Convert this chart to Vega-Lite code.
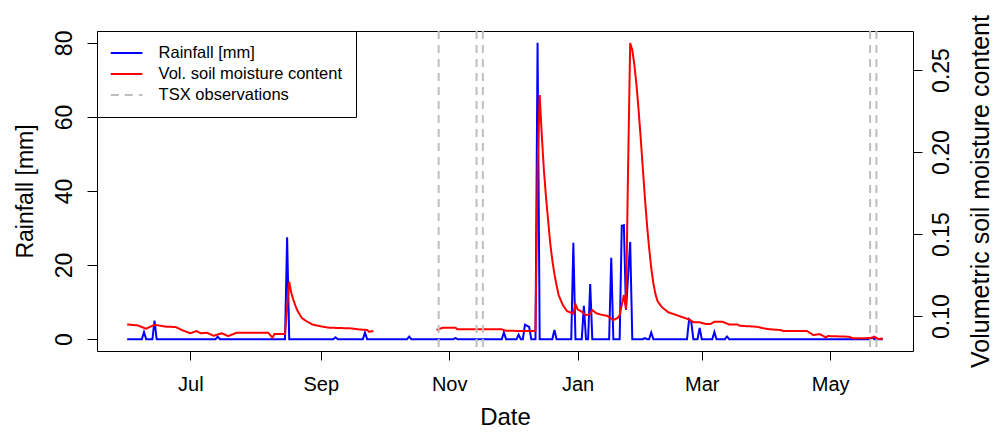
{
  "$schema": "https://vega.github.io/schema/vega-lite/v6.json",
  "width": 816,
  "height": 320,
  "autosize": {"type": "none"},
  "padding": {"left": 97, "top": 31, "right": 82, "bottom": 81},
  "background": "white",
  "config": {
    "font": "Liberation Sans",
    "view": {"stroke": "black", "strokeWidth": 1},
    "axis": {
      "grid": false,
      "domain": false,
      "tickColor": "black",
      "tickWidth": 1,
      "labelColor": "black",
      "titleColor": "black",
      "labelFont": "Liberation Sans",
      "titleFont": "Liberation Sans",
      "titleFontWeight": "normal",
      "labelFontSize": 20,
      "titleFontSize": 22,
      "tickSize": 9,
      "labelOverlap": false,
      "labelFlush": false
    },
    "legend": {
      "orient": "top-left",
      "direction": "vertical",
      "offset": 0,
      "padding": 13,
      "symbolOffset": 7.6,
      "strokeColor": "black",
      "fillColor": "white",
      "symbolType": "M-2,0H2",
      "symbolSize": 250,
      "symbolStrokeWidth": 2,
      "labelFont": "Liberation Sans",
      "labelFontSize": 16.5,
      "labelLimit": 0,
      "labelColor": "black",
      "labelOffset": 23,
      "rowPadding": 3
    }
  },
  "datasets": {
    "rain": [
      {"date": "2012/06/01", "mm": 0},
      {"date": "2012/06/08", "mm": 0},
      {"date": "2012/06/09", "mm": 1.9},
      {"date": "2012/06/10", "mm": 0},
      {"date": "2012/06/13", "mm": 0},
      {"date": "2012/06/14", "mm": 5.0},
      {"date": "2012/06/15", "mm": 0},
      {"date": "2012/07/13", "mm": 0},
      {"date": "2012/07/14", "mm": 0.7},
      {"date": "2012/07/15", "mm": 0},
      {"date": "2012/08/15", "mm": 0},
      {"date": "2012/08/16", "mm": 27.5},
      {"date": "2012/08/17", "mm": 0},
      {"date": "2012/09/07", "mm": 0},
      {"date": "2012/09/08", "mm": 0.5},
      {"date": "2012/09/09", "mm": 0},
      {"date": "2012/09/21", "mm": 0},
      {"date": "2012/09/22", "mm": 1.8},
      {"date": "2012/09/23", "mm": 0},
      {"date": "2012/10/12", "mm": 0},
      {"date": "2012/10/13", "mm": 0.7},
      {"date": "2012/10/14", "mm": 0},
      {"date": "2012/11/03", "mm": 0},
      {"date": "2012/11/04", "mm": 0.3},
      {"date": "2012/11/05", "mm": 0},
      {"date": "2012/11/26", "mm": 0},
      {"date": "2012/11/27", "mm": 1.8},
      {"date": "2012/11/28", "mm": 0},
      {"date": "2012/12/03", "mm": 0},
      {"date": "2012/12/04", "mm": 1.2},
      {"date": "2012/12/05", "mm": 0},
      {"date": "2012/12/06", "mm": 0},
      {"date": "2012/12/07", "mm": 3.9},
      {"date": "2012/12/08", "mm": 3.6},
      {"date": "2012/12/09", "mm": 3.3},
      {"date": "2012/12/10", "mm": 0},
      {"date": "2012/12/12", "mm": 0},
      {"date": "2012/12/13", "mm": 80},
      {"date": "2012/12/14", "mm": 0},
      {"date": "2012/12/20", "mm": 0},
      {"date": "2012/12/21", "mm": 2.5},
      {"date": "2012/12/22", "mm": 0},
      {"date": "2012/12/29", "mm": 0},
      {"date": "2012/12/30", "mm": 26},
      {"date": "2012/12/31", "mm": 0},
      {"date": "2013/01/03", "mm": 0},
      {"date": "2013/01/04", "mm": 9},
      {"date": "2013/01/05", "mm": 0},
      {"date": "2013/01/06", "mm": 0},
      {"date": "2013/01/07", "mm": 14.9},
      {"date": "2013/01/08", "mm": 0},
      {"date": "2013/01/16", "mm": 0},
      {"date": "2013/01/17", "mm": 22},
      {"date": "2013/01/18", "mm": 0},
      {"date": "2013/01/21", "mm": 0},
      {"date": "2013/01/22", "mm": 30.6},
      {"date": "2013/01/23", "mm": 30.8},
      {"date": "2013/01/24", "mm": 7.9},
      {"date": "2013/01/25", "mm": 17},
      {"date": "2013/01/26", "mm": 26.2},
      {"date": "2013/01/27", "mm": 0},
      {"date": "2013/02/01", "mm": 0},
      {"date": "2013/02/02", "mm": 0.3},
      {"date": "2013/02/03", "mm": 0},
      {"date": "2013/02/04", "mm": 0},
      {"date": "2013/02/05", "mm": 1.8},
      {"date": "2013/02/06", "mm": 0},
      {"date": "2013/02/22", "mm": 0},
      {"date": "2013/02/23", "mm": 5.4},
      {"date": "2013/02/24", "mm": 4.8},
      {"date": "2013/02/25", "mm": 0},
      {"date": "2013/02/27", "mm": 0},
      {"date": "2013/02/28", "mm": 3.0},
      {"date": "2013/03/01", "mm": 0},
      {"date": "2013/03/06", "mm": 0},
      {"date": "2013/03/07", "mm": 1.9},
      {"date": "2013/03/08", "mm": 0},
      {"date": "2013/03/12", "mm": 0},
      {"date": "2013/03/13", "mm": 0.7},
      {"date": "2013/03/14", "mm": 0},
      {"date": "2013/05/20", "mm": 0},
      {"date": "2013/05/21", "mm": 0.4},
      {"date": "2013/05/22", "mm": 0},
      {"date": "2013/05/26", "mm": 0}
    ],
    "vsm": [
      {"date": "2012/06/01", "vsm": 0.0949, "seg": "a"},
      {"date": "2012/06/06", "vsm": 0.0943, "seg": "a"},
      {"date": "2012/06/10", "vsm": 0.0923, "seg": "a"},
      {"date": "2012/06/14", "vsm": 0.0947, "seg": "a"},
      {"date": "2012/06/19", "vsm": 0.0936, "seg": "a"},
      {"date": "2012/06/24", "vsm": 0.0933, "seg": "a"},
      {"date": "2012/06/27", "vsm": 0.0915, "seg": "a"},
      {"date": "2012/07/01", "vsm": 0.0895, "seg": "a"},
      {"date": "2012/07/04", "vsm": 0.0909, "seg": "a"},
      {"date": "2012/07/06", "vsm": 0.0895, "seg": "a"},
      {"date": "2012/07/09", "vsm": 0.0898, "seg": "a"},
      {"date": "2012/07/12", "vsm": 0.0880, "seg": "a"},
      {"date": "2012/07/16", "vsm": 0.0895, "seg": "a"},
      {"date": "2012/07/19", "vsm": 0.0878, "seg": "a"},
      {"date": "2012/07/23", "vsm": 0.0898, "seg": "a"},
      {"date": "2012/08/07", "vsm": 0.0898, "seg": "a"},
      {"date": "2012/08/09", "vsm": 0.0869, "seg": "a"},
      {"date": "2012/08/10", "vsm": 0.0890, "seg": "a"},
      {"date": "2012/08/15", "vsm": 0.0890, "seg": "a"},
      {"date": "2012/08/16", "vsm": 0.1050, "seg": "a"},
      {"date": "2012/08/17", "vsm": 0.1209, "seg": "a"},
      {"date": "2012/08/18", "vsm": 0.1140, "seg": "a"},
      {"date": "2012/08/19", "vsm": 0.1098, "seg": "a"},
      {"date": "2012/08/20", "vsm": 0.1061, "seg": "a"},
      {"date": "2012/08/21", "vsm": 0.1030, "seg": "a"},
      {"date": "2012/08/23", "vsm": 0.0988, "seg": "a"},
      {"date": "2012/08/25", "vsm": 0.0970, "seg": "a"},
      {"date": "2012/08/28", "vsm": 0.0948, "seg": "a"},
      {"date": "2012/09/02", "vsm": 0.0935, "seg": "a"},
      {"date": "2012/09/05", "vsm": 0.0929, "seg": "a"},
      {"date": "2012/09/15", "vsm": 0.0925, "seg": "a"},
      {"date": "2012/09/19", "vsm": 0.0919, "seg": "a"},
      {"date": "2012/09/23", "vsm": 0.0915, "seg": "a"},
      {"date": "2012/09/24", "vsm": 0.0904, "seg": "a"},
      {"date": "2012/09/26", "vsm": 0.0909, "seg": "a"},
      {"date": "2012/10/26", "vsm": 0.0915, "seg": "b"},
      {"date": "2012/10/29", "vsm": 0.0929, "seg": "b"},
      {"date": "2012/11/04", "vsm": 0.0929, "seg": "b"},
      {"date": "2012/11/05", "vsm": 0.0919, "seg": "b"},
      {"date": "2012/11/26", "vsm": 0.0919, "seg": "b"},
      {"date": "2012/11/28", "vsm": 0.0910, "seg": "b"},
      {"date": "2012/12/12", "vsm": 0.0909, "seg": "b"},
      {"date": "2012/12/13", "vsm": 0.1900, "seg": "b"},
      {"date": "2012/12/14", "vsm": 0.2348, "seg": "b"},
      {"date": "2012/12/15", "vsm": 0.2104, "seg": "b"},
      {"date": "2012/12/16", "vsm": 0.1890, "seg": "b"},
      {"date": "2012/12/17", "vsm": 0.1726, "seg": "b"},
      {"date": "2012/12/18", "vsm": 0.1585, "seg": "b"},
      {"date": "2012/12/19", "vsm": 0.1445, "seg": "b"},
      {"date": "2012/12/20", "vsm": 0.1341, "seg": "b"},
      {"date": "2012/12/21", "vsm": 0.1256, "seg": "b"},
      {"date": "2012/12/22", "vsm": 0.1189, "seg": "b"},
      {"date": "2012/12/23", "vsm": 0.1128, "seg": "b"},
      {"date": "2012/12/25", "vsm": 0.1067, "seg": "b"},
      {"date": "2012/12/27", "vsm": 0.1030, "seg": "b"},
      {"date": "2012/12/30", "vsm": 0.1015, "seg": "b"},
      {"date": "2012/12/31", "vsm": 0.1073, "seg": "b"},
      {"date": "2013/01/01", "vsm": 0.1041, "seg": "b"},
      {"date": "2013/01/03", "vsm": 0.1026, "seg": "b"},
      {"date": "2013/01/05", "vsm": 0.1006, "seg": "b"},
      {"date": "2013/01/07", "vsm": 0.1012, "seg": "b"},
      {"date": "2013/01/08", "vsm": 0.1037, "seg": "b"},
      {"date": "2013/01/10", "vsm": 0.1016, "seg": "b"},
      {"date": "2013/01/13", "vsm": 0.1006, "seg": "b"},
      {"date": "2013/01/15", "vsm": 0.1002, "seg": "b"},
      {"date": "2013/01/18", "vsm": 0.0976, "seg": "b"},
      {"date": "2013/01/20", "vsm": 0.0988, "seg": "b"},
      {"date": "2013/01/21", "vsm": 0.1006, "seg": "b"},
      {"date": "2013/01/22", "vsm": 0.1067, "seg": "b"},
      {"date": "2013/01/23", "vsm": 0.1128, "seg": "b"},
      {"date": "2013/01/24", "vsm": 0.1043, "seg": "b"},
      {"date": "2013/01/25", "vsm": 0.1900, "seg": "b"},
      {"date": "2013/01/26", "vsm": 0.2665, "seg": "b"},
      {"date": "2013/01/27", "vsm": 0.2622, "seg": "b"},
      {"date": "2013/01/28", "vsm": 0.2530, "seg": "b"},
      {"date": "2013/01/29", "vsm": 0.2409, "seg": "b"},
      {"date": "2013/01/30", "vsm": 0.2256, "seg": "b"},
      {"date": "2013/01/31", "vsm": 0.2085, "seg": "b"},
      {"date": "2013/02/01", "vsm": 0.1902, "seg": "b"},
      {"date": "2013/02/02", "vsm": 0.1720, "seg": "b"},
      {"date": "2013/02/03", "vsm": 0.1555, "seg": "b"},
      {"date": "2013/02/04", "vsm": 0.1415, "seg": "b"},
      {"date": "2013/02/05", "vsm": 0.1293, "seg": "b"},
      {"date": "2013/02/06", "vsm": 0.1201, "seg": "b"},
      {"date": "2013/02/07", "vsm": 0.1134, "seg": "b"},
      {"date": "2013/02/08", "vsm": 0.1091, "seg": "b"},
      {"date": "2013/02/10", "vsm": 0.1055, "seg": "b"},
      {"date": "2013/02/13", "vsm": 0.1024, "seg": "b"},
      {"date": "2013/02/17", "vsm": 0.1006, "seg": "b"},
      {"date": "2013/02/21", "vsm": 0.0988, "seg": "b"},
      {"date": "2013/02/23", "vsm": 0.0979, "seg": "b"},
      {"date": "2013/02/25", "vsm": 0.0963, "seg": "b"},
      {"date": "2013/02/28", "vsm": 0.0962, "seg": "b"},
      {"date": "2013/03/03", "vsm": 0.0951, "seg": "b"},
      {"date": "2013/03/05", "vsm": 0.0951, "seg": "b"},
      {"date": "2013/03/07", "vsm": 0.0965, "seg": "b"},
      {"date": "2013/03/11", "vsm": 0.0965, "seg": "b"},
      {"date": "2013/03/14", "vsm": 0.0949, "seg": "b"},
      {"date": "2013/03/18", "vsm": 0.0949, "seg": "b"},
      {"date": "2013/03/19", "vsm": 0.0941, "seg": "b"},
      {"date": "2013/03/27", "vsm": 0.0935, "seg": "b"},
      {"date": "2013/04/01", "vsm": 0.0921, "seg": "b"},
      {"date": "2013/04/07", "vsm": 0.0915, "seg": "b"},
      {"date": "2013/04/09", "vsm": 0.0909, "seg": "b"},
      {"date": "2013/04/20", "vsm": 0.0909, "seg": "b"},
      {"date": "2013/04/23", "vsm": 0.0884, "seg": "b"},
      {"date": "2013/04/26", "vsm": 0.0890, "seg": "b"},
      {"date": "2013/04/29", "vsm": 0.0870, "seg": "b"},
      {"date": "2013/04/30", "vsm": 0.0878, "seg": "b"},
      {"date": "2013/05/10", "vsm": 0.0874, "seg": "b"},
      {"date": "2013/05/12", "vsm": 0.0864, "seg": "b"},
      {"date": "2013/05/17", "vsm": 0.0864, "seg": "b"},
      {"date": "2013/05/21", "vsm": 0.0868, "seg": "b"},
      {"date": "2013/05/22", "vsm": 0.0875, "seg": "b"},
      {"date": "2013/05/24", "vsm": 0.0859, "seg": "b"},
      {"date": "2013/05/26", "vsm": 0.0864, "seg": "b"}
    ],
    "tsx": [
      {"date": "2012/10/27"},
      {"date": "2012/11/14"},
      {"date": "2012/11/17"},
      {"date": "2013/05/20"},
      {"date": "2013/05/23"}
    ]
  },
  "layer": [
    {
      "data": {"name": "rain"},
      "mark": {"type": "line", "strokeWidth": 2},
      "encoding": {
        "x": {
          "field": "date",
          "type": "temporal",
          "scale": {"domain": [{"year": 2012, "month": 5, "date": 17, "hours": 16}, {"year": 2013, "month": 6, "date": 9, "hours": 9}]},
          "axis": {
            "values": [
              {"year": 2012, "month": 7, "date": 1},
              {"year": 2012, "month": 9, "date": 1},
              {"year": 2012, "month": 11, "date": 1},
              {"year": 2013, "month": 1, "date": 1},
              {"year": 2013, "month": 3, "date": 1},
              {"year": 2013, "month": 5, "date": 1}
            ],
            "format": "%b",
            "title": "Date",
            "labelFontSize": 20,
            "titleFontSize": 24,
            "labelPadding": 14,
            "titlePadding": 11
          }
        },
        "y": {
          "field": "mm",
          "type": "quantitative",
          "scale": {"domain": [-3.2, 83.2], "nice": false, "zero": false},
          "axis": {
            "orient": "left",
            "values": [0, 20, 40, 60, 80],
            "title": "Rainfall [mm]",
            "labelFontSize": 23,
            "titleFontSize": 23,
            "labelAngle": -90,
            "labelAlign": "center",
            "labelBaseline": "alphabetic",
            "labelPadding": 16,
            "tickSize": 10,
            "titlePadding": 16
          }
        },
        "color": {
          "datum": "Rainfall [mm]",
          "scale": {"domain": ["Rainfall [mm]", "Vol. soil moisture content", "TSX observations"], "range": ["#0000ff", "#ff0000", "#bebebe"]},
          "legend": {"title": null}
        },
        "strokeDash": {
          "datum": "Rainfall [mm]",
          "scale": {"domain": ["Rainfall [mm]", "Vol. soil moisture content", "TSX observations"], "range": [[1, 0], [1, 0], [8, 6]]},
          "legend": {"title": null}
        }
      }
    },
    {
      "data": {"name": "vsm"},
      "mark": {"type": "line", "strokeWidth": 2},
      "encoding": {
        "x": {"field": "date", "type": "temporal"},
        "y": {
          "field": "vsm",
          "type": "quantitative",
          "scale": {"domain": [0.0787, 0.2738], "nice": false, "zero": false},
          "axis": {
            "orient": "right",
            "values": [0.10, 0.15, 0.20, 0.25],
            "format": ".2f",
            "title": "Volumetric soil moisture content",
            "labelFontSize": 23,
            "titleFontSize": 25,
            "labelAngle": -90,
            "labelAlign": "center",
            "labelBaseline": "top",
            "labelPadding": 8,
            "titleAngle": -90,
            "titleBaseline": "top",
            "titlePadding": 15
          }
        },
        "detail": {"field": "seg"},
        "color": {"datum": "Vol. soil moisture content"},
        "strokeDash": {"datum": "Vol. soil moisture content"}
      }
    },
    {
      "data": {"name": "tsx"},
      "mark": {"type": "rule", "strokeWidth": 2},
      "encoding": {
        "x": {"field": "date", "type": "temporal"},
        "color": {"datum": "TSX observations"},
        "strokeDash": {"datum": "TSX observations"}
      }
    }
  ],
  "resolve": {"scale": {"y": "independent"}}
}
